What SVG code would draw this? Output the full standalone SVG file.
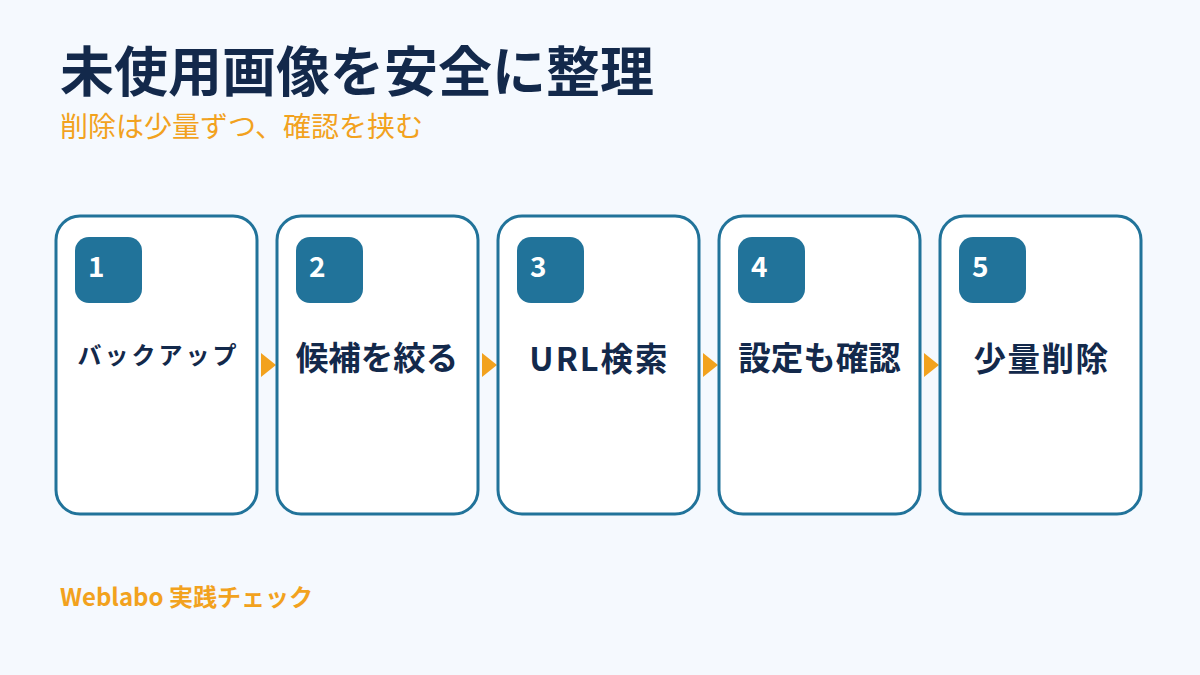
<svg xmlns="http://www.w3.org/2000/svg" width="1200" height="675" viewBox="0 0 1200 675">
<style>
.card{fill:#FFFFFF;stroke:#21739A;stroke-width:3}
.badge{fill:#21739A}
.num{font-family:"Noto Sans CJK JP",sans-serif;font-weight:700;font-size:28px;fill:#FFFFFF}
.lbl{font-family:"Noto Sans CJK JP",sans-serif;font-weight:700;font-size:32.5px;fill:#13294B;text-anchor:middle}
.lbls{font-family:"Noto Sans CJK JP",sans-serif;font-weight:700;font-size:24px;fill:#13294B;text-anchor:middle;letter-spacing:3px}
.arr{fill:#F2A21E}
</style>
<rect width="1200" height="675" fill="#F5F9FE"/>
<text x="60" y="92" font-family="'Noto Sans CJK JP',sans-serif" font-weight="700" font-size="54" fill="#13294B">未使用画像を安全に整理</text>
<text x="60" y="137" font-family="'Noto Sans CJK JP',sans-serif" font-size="28" fill="#F2A21E">削除は少量ずつ、確認を挟む</text>
<g id="connectors">
<polygon class="arr" points="261,353 276,365 261,377"/>
<polygon class="arr" points="482,353 497,365 482,377"/>
<polygon class="arr" points="703,353 718,365 703,377"/>
<polygon class="arr" points="924,353 939,365 924,377"/>
</g>
<g id="step1">
<rect class="card" x="56" y="216" width="201" height="298" rx="24"/>
<rect class="badge" x="75" y="237" width="67" height="66" rx="14"/>
<text class="num" x="88" y="277">1</text>
<text class="lbls" x="158.5" y="364">バックアップ</text>
</g>
<g id="step2">
<rect class="card" x="277" y="216" width="201" height="298" rx="24"/>
<rect class="badge" x="296" y="237" width="67" height="66" rx="14"/>
<text class="num" x="309" y="277">2</text>
<text class="lbl" x="377" y="370">候補を絞る</text>
</g>
<g id="step3">
<rect class="card" x="498" y="216" width="201" height="298" rx="24"/>
<rect class="badge" x="517" y="237" width="67" height="66" rx="14"/>
<text class="num" x="530" y="277">3</text>
<text class="lbl" x="599.5" y="371" font-size="35" letter-spacing="2">URL検索</text>
</g>
<g id="step4">
<rect class="card" x="719" y="216" width="201" height="298" rx="24"/>
<rect class="badge" x="738" y="237" width="67" height="66" rx="14"/>
<text class="num" x="751" y="277">4</text>
<text class="lbl" x="819.5" y="370">設定も確認</text>
</g>
<g id="step5">
<rect class="card" x="940" y="216" width="201" height="298" rx="24"/>
<rect class="badge" x="959" y="237" width="67" height="66" rx="14"/>
<text class="num" x="972" y="277">5</text>
<text class="lbl" x="1041.5" y="371" font-size="34" letter-spacing="1.5">少量削除</text>
</g>
<text x="60" y="606" font-family="'Noto Sans CJK JP',sans-serif" font-weight="700" font-size="24" fill="#F2A21E">Weblabo 実践チェック</text>
</svg>
